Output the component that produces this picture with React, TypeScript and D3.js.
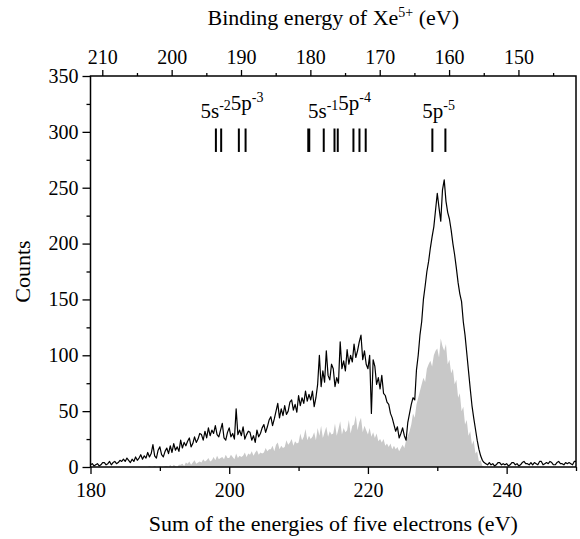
import React, { useRef, useEffect } from 'react';
import * as d3 from 'd3';

// histogram bins: 0.25 eV wide, first bin at 180 eV
const binStart = 180;
const binWidth = 0.25;

// all five-electron events (black line), one row per eV
const totalCounts = [
  2, 3, 1, 2,   3, 1, 2, 4,   4, 2, 3, 5,   2, 4, 5, 3,   4, 6, 5, 7,
  5, 8, 6, 4,   7, 5, 9, 6,   8, 11, 7, 10, 8, 13, 9, 12, 20, 10, 8, 15,
  18, 11, 9, 14, 17, 12, 19, 13, 21, 15, 18, 14, 24, 17, 22, 19, 23, 26, 18, 21,
  27, 22, 25, 30, 29, 24, 32, 26, 35, 28, 33, 30, 37, 29, 27, 33, 39, 26, 24, 31,
  35, 27, 30, 25, 52, 29, 33, 28, 36, 25, 29, 32, 31, 24, 28, 22, 33, 27, 30, 35,
  38, 31, 36, 42, 45, 37, 43, 50, 57, 44, 52, 46, 55, 47, 50, 58, 60, 51, 56, 49,
  64, 55, 62, 57, 68, 59, 65, 60, 68, 54, 62, 74, 100, 72, 86, 76, 104, 82, 78, 92,
  88, 72, 80, 75, 112, 88, 95, 86, 105, 92, 100, 94, 110, 98, 104, 112, 118, 96, 104, 92,
  88, 100, 48, 96, 90, 74, 80, 70, 82, 66, 64, 58, 56, 48, 44, 38, 32, 36, 26, 30,
  35, 28, 24, 40, 48, 56, 62, 60, 87, 100, 118, 130, 150, 162, 175, 184, 196, 206, 215, 230,
  245, 232, 220, 248, 257, 238, 228, 222, 212, 200, 190, 178, 165, 155, 148, 130, 118, 102, 86, 70,
  55, 44, 34, 24, 16, 10, 6, 4, 3, 2, 4, 2, 3, 1, 2, 4, 4, 2, 3, 2,
  3, 1, 2, 4, 4, 2, 3, 1, 2, 4, 5, 3, 3, 2, 4, 2, 4, 3, 2, 5,
  5, 2, 3, 4, 3, 5, 4, 2, 2, 4, 5, 3, 3, 2, 4, 3, 4, 3, 2, 5,
  5,
];

// gated events (grey area)
const gatedCounts = [
  0, 0, 0, 0,   0, 0, 0, 0,   0, 0, 0, 0,   0, 0, 0, 0,   0, 0, 0, 0,
  0, 0, 0, 0,   0, 0, 0, 0,   0, 0, 0, 0,   0, 0, 1, 0,   0, 1, 0, 0,
  1, 0, 0, 1,   1, 0, 2, 0,   2, 1, 0, 2,   2, 3, 1, 4,   3, 5, 2, 4,
  6, 3, 4, 5,   4, 7, 5, 6,   8, 5, 6, 9,   6, 10, 7, 8,  9, 7, 11, 8,
  8, 11, 9, 7,  12, 8, 10, 9, 10, 13, 9, 12, 11, 14, 10, 13, 15, 11, 13, 12,
  13, 17, 14, 16, 16, 19, 14, 20, 22, 16, 19, 17, 18, 24, 20, 22, 25, 19, 23, 21,
  22, 30, 24, 27, 34, 24, 28, 25, 27, 31, 24, 35, 28, 37, 26, 31, 36, 27, 32, 29,
  30, 39, 28, 34, 41, 29, 35, 31, 33, 42, 30, 37, 38, 46, 33, 40, 44, 31, 37, 33,
  29, 35, 27, 31, 26, 30, 23, 25, 22, 25, 19, 21, 18, 21, 16, 19, 16, 18, 14, 17,
  20, 17, 24, 28, 32, 38, 48, 44, 56, 62, 68, 74, 80, 76, 88, 92, 95, 90, 100, 104,
  106, 98, 115, 108, 104, 110, 92, 96, 84, 88, 74, 78, 62, 66, 50, 54, 38, 42, 28, 32,
  20, 24, 12, 14, 5, 6, 1, 0,   0, 0, 0, 0,   0, 0, 0, 0,   0, 0, 0, 0,
  0, 0, 0, 0,   0, 0, 0, 0,   0, 0, 0, 0,   0, 0, 0, 0,   0, 0, 0, 0,
  0, 0, 0, 0,   0, 0, 0, 0,   0, 0, 0, 0,   0, 0, 0, 0,   0, 0, 0, 0,
  0,
];

// binding energy = offset - sum of electron energies
const bindingOffset = 391.7;

const bottomTicks = [180, 200, 220, 240];
const bottomMinor = [190, 210, 230, 250];
const topTicks = [210, 200, 190, 180, 170, 160, 150];
const topMinor = [205, 195, 185, 175, 165, 155, 145];
const yTicks = [0, 50, 100, 150, 200, 250, 300, 350];
const yMinor = [25, 75, 125, 175, 225, 275, 325];

// level positions (sum energy, eV); first of the middle group drawn bold
const levelLines = [198.08, 198.84, 201.39, 202.36, 211.47, 213.63, 215.18, 215.65, 217.91, 218.78, 219.68, 229.29, 231.17];
const boldLevels = [211.47];

const configLabels = [
  { at: 200.4, parts: [['5s', '-2'], ['5p', '-3']] },
  { at: 215.9, parts: [['5s', '-1'], ['5p', '-4']] },
  { at: 230.2, parts: [['5p', '-5']] },
];

const font = "'Liberation Serif', 'Times New Roman', serif";

const App = () => {
  const svgRef = useRef(null);

  useEffect(() => {
    const svg = d3.select(svgRef.current);
    svg.selectAll('*').remove();

    const width = 580;
    const height = 539;
    const plot = { left: 90.5, right: 576, top: 76, bottom: 467 };

    const x = d3.scaleLinear().domain([180, 250]).range([plot.left, plot.right]);
    const xTop = d3.scaleLinear()
      .domain([bindingOffset - 180, bindingOffset - 250])
      .range([plot.left, plot.right]);
    const y = d3.scaleLinear().domain([0, 350]).range([plot.bottom, plot.top]);

    const bins = totalCounts.map((v, i) => ({ e: binStart + i * binWidth, total: v, gated: gatedCounts[i] }));

    svg.attr('width', width).attr('height', height);

    const area = d3.area()
      .x(d => x(d.e))
      .y0(y(0))
      .y1(d => y(d.gated));
    svg.append('path')
      .datum(bins)
      .attr('d', area)
      .style('fill', '#c8c8c8');

    const line = d3.line()
      .x(d => x(d.e))
      .y(d => y(d.total));
    svg.append('path')
      .datum(bins)
      .attr('d', line)
      .style('fill', 'none')
      .style('stroke', '#000')
      .style('stroke-width', 1.2)
      .style('stroke-linejoin', 'round');

    // level markers
    svg.selectAll('.level')
      .data(levelLines)
      .enter()
      .append('line')
      .classed('level', true)
      .attr('x1', d => x(d))
      .attr('x2', d => x(d))
      .attr('y1', y(303))
      .attr('y2', y(282))
      .style('stroke', '#000')
      .style('stroke-width', d => boldLevels.includes(d) ? 3 : 2);

    const labels = svg.selectAll('.config')
      .data(configLabels)
      .enter()
      .append('text')
      .classed('config', true)
      .attr('x', d => x(d.at))
      .attr('y', 118)
      .attr('text-anchor', 'middle')
      .style('font-family', font)
      .style('font-size', '21px');
    labels.each(function (d) {
      const t = d3.select(this);
      d.parts.forEach(([base, sup]) => {
        t.append('tspan').attr('dy', 0).text(base);
        t.append('tspan').style('font-size', '14px').attr('dy', -8).text(sup);
        t.append('tspan').attr('dy', 8).text('');
      });
    });

    // frame
    svg.append('rect')
      .attr('x', plot.left)
      .attr('y', plot.top)
      .attr('width', plot.right - plot.left)
      .attr('height', plot.bottom - plot.top)
      .style('fill', 'none')
      .style('stroke', '#000')
      .style('stroke-width', 1.5);

    const styleAxis = (g) => {
      g.select('.domain').remove();
      g.selectAll('line').style('stroke', '#000').style('stroke-width', 1.3);
      g.selectAll('text').style('font-family', font).style('font-size', '20px').style('fill', '#000');
    };

    svg.append('g')
      .attr('transform', `translate(0,${plot.bottom})`)
      .call(d3.axisBottom(x).tickValues(bottomTicks).tickSize(7).tickPadding(9).tickFormat(d3.format('d')))
      .call(styleAxis);
    svg.append('g')
      .attr('transform', `translate(0,${plot.bottom})`)
      .call(d3.axisBottom(x).tickValues(bottomMinor).tickSize(4).tickFormat(() => ''))
      .call(styleAxis);

    svg.append('g')
      .attr('transform', `translate(0,${plot.top})`)
      .call(d3.axisTop(xTop).tickValues(topTicks).tickSize(6).tickPadding(6).tickFormat(d3.format('d')))
      .call(styleAxis);
    svg.append('g')
      .attr('transform', `translate(0,${plot.top})`)
      .call(d3.axisTop(xTop).tickValues(topMinor.filter(v => xTop(v) <= plot.right)).tickSize(3).tickFormat(() => ''))
      .call(styleAxis);

    svg.append('g')
      .attr('transform', `translate(${plot.left},0)`)
      .call(d3.axisLeft(y).tickValues(yTicks).tickSize(8).tickPadding(4).tickFormat(d3.format('d')))
      .call(styleAxis);
    svg.append('g')
      .attr('transform', `translate(${plot.left},0)`)
      .call(d3.axisLeft(y).tickValues(yMinor).tickSize(4).tickFormat(() => ''))
      .call(styleAxis);

    // axis titles
    svg.append('text')
      .attr('x', (plot.left + plot.right) / 2)
      .attr('y', 531)
      .attr('text-anchor', 'middle')
      .style('font-family', font)
      .style('font-size', '22px')
      .text('Sum of the energies of five electrons (eV)');

    const topTitle = svg.append('text')
      .attr('x', (plot.left + plot.right) / 2)
      .attr('y', 25)
      .attr('text-anchor', 'middle')
      .style('font-family', font)
      .style('font-size', '22px');
    topTitle.append('tspan').text('Binding energy of Xe');
    topTitle.append('tspan').attr('dy', -8).style('font-size', '14px').text('5+');
    topTitle.append('tspan').attr('dy', 8).text(' (eV)');

    svg.append('text')
      .attr('transform', `translate(30,${(plot.top + plot.bottom) / 2}) rotate(-90)`)
      .attr('text-anchor', 'middle')
      .style('font-family', font)
      .style('font-size', '22px')
      .text('Counts');
  }, []);

  return (
    <svg ref={svgRef} style={{ position: 'absolute', left: 0, top: 0, background: '#fff' }} />
  );
};

export default App;
